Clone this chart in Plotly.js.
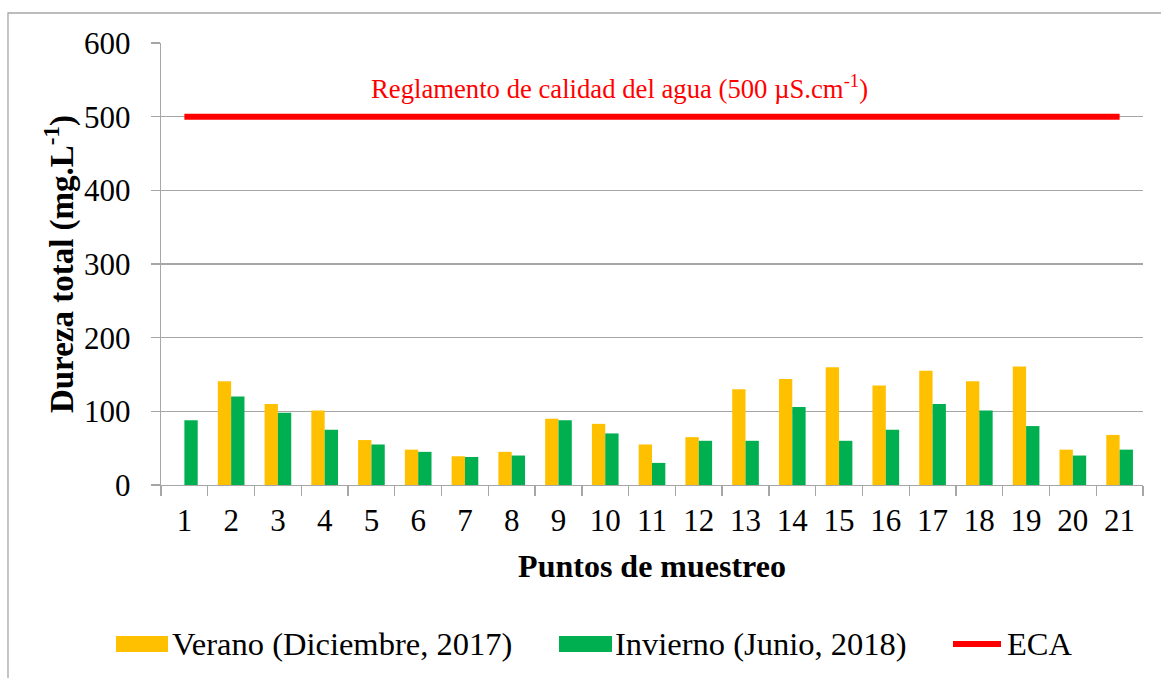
<!DOCTYPE html>
<html>
<head>
<meta charset="utf-8">
<script src="https://cdn.plot.ly/plotly-3.0.1.min.js"></script>
<style>
html,body{margin:0;padding:0;background:#fff;}
#chart{width:1161px;height:678px;}
</style>
</head>
<body>
<div id="chart"></div>
<script>
const categories = ["1","2","3","4","5","6","7","8","9","10","11","12","13","14","15","16","17","18","19","20","21"];
const verano = [null,141,110,101,61,48,39,45,90,83,55,65,130,144,160,135,155,141,161,48,68];
const invierno = [88,120,98,75,55,45,38,40,88,70,30,60,60,106,60,75,110,101,80,40,48];
const ecaValue = 500;
const eca = categories.map(() => ecaValue);
const seriesNames = ["Verano (Diciembre, 2017)", "Invierno (Junio, 2018)", "ECA"];
const yTicks = [0,100,200,300,400,500,600];
const annotationText = "Reglamento de calidad del agua (500 µS.cm<sup>-1</sup>)";

const FONT = "Liberation Serif, Times New Roman, serif";
const C_Y = "#FFC000", C_G = "#00B050", C_R = "#FF0000", GRID = "#A6A6A6";

const traces = [
  {type:"bar", name:seriesNames[0], x:categories, y:verano, marker:{color:C_Y, line:{width:0}}, showlegend:false, hoverinfo:"x+y"},
  {type:"bar", name:seriesNames[1], x:categories, y:invierno, marker:{color:C_G, line:{width:0}}, showlegend:false, hoverinfo:"x+y"},
  {type:"scatter", mode:"lines", name:seriesNames[2], x:categories, y:eca, line:{color:C_R, width:6}, showlegend:false}
];

// paper coordinate helpers (plot area: x 161..1143, y 43..485)
const px = v => (v-161)/982;
const py = v => (485-v)/442;

const legendY = py(644);
const layout = {
  width:1161, height:678,
  margin:{l:161, r:18, t:43, b:193},
  paper_bgcolor:"#fff", plot_bgcolor:"#fff",
  barmode:"group", bargap:0.43, bargroupgap:0,
  font:{family:FONT, color:"#000", size:31},
  showlegend:false,
  xaxis:{
    type:"category", tickson:"boundaries", ticks:"outside", ticklen:10, tickcolor:GRID, tickwidth:1.3,
    showline:true, linecolor:GRID, linewidth:1.3, showgrid:false,
    tickfont:{family:FONT, size:31, color:"#000"}, ticklabelstandoff:7,
    title:{text:"<b>Puntos de muestreo</b>", font:{family:FONT, size:32, color:"#000"}, standoff:18}
  },
  yaxis:{
    range:[0,600], tickvals:yTicks, ticks:"outside", ticklen:9, tickcolor:GRID, tickwidth:1.3,
    showline:true, linecolor:GRID, linewidth:1.3, showgrid:true, gridcolor:GRID, gridwidth:1.3, zeroline:false,
    tickfont:{family:FONT, size:31, color:"#000"}, ticklabelstandoff:14,
    title:{text:"<b>Dureza total (mg.L<sup>-1</sup>)</b>", font:{family:FONT, size:33, color:"#000"}, standoff:0}
  },
  shapes:[
    {type:"rect", xref:"paper", yref:"paper", x0:px(8), x1:px(1200), y0:py(13), y1:py(720), line:{color:GRID, width:1.3}, fillcolor:"rgba(0,0,0,0)", layer:"below"},
    {type:"rect", xref:"paper", yref:"paper", x0:px(116), x1:px(168), y0:py(652), y1:py(636), line:{width:0}, fillcolor:C_Y},
    {type:"rect", xref:"paper", yref:"paper", x0:px(559), x1:px(612), y0:py(652), y1:py(636), line:{width:0}, fillcolor:C_G},
    {type:"line", xref:"paper", yref:"paper", x0:px(953), x1:px(1001), y0:legendY, y1:legendY, line:{color:C_R, width:6}}
  ],
  annotations:[
    {xref:"paper", yref:"y", x:px(619), y:(485-87)/0.7367, text:annotationText, showarrow:false, font:{family:FONT, size:26.7, color:C_R}, xanchor:"center", yanchor:"middle"},
    {xref:"paper", yref:"paper", x:px(170), y:legendY, text:seriesNames[0], showarrow:false, xanchor:"left", yanchor:"middle", font:{family:FONT, size:32.5, color:"#000"}},
    {xref:"paper", yref:"paper", x:px(613), y:legendY, text:seriesNames[1], showarrow:false, xanchor:"left", yanchor:"middle", font:{family:FONT, size:32.5, color:"#000"}},
    {xref:"paper", yref:"paper", x:px(1005), y:legendY, text:seriesNames[2], showarrow:false, xanchor:"left", yanchor:"middle", font:{family:FONT, size:32.5, color:"#000"}}
  ]
};

Plotly.newPlot("chart", traces, layout, {displayModeBar:false, staticPlot:true});
</script>
</body>
</html>
